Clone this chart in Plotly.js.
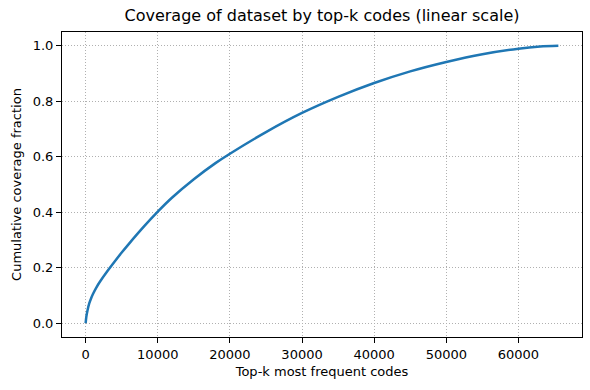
<!DOCTYPE html>
<html>
<head>
<meta charset="utf-8">
<script src="https://cdn.plot.ly/plotly-3.0.1.min.js"></script>
<style>html,body{margin:0;padding:0;background:#fff;}#chart{width:590px;height:390px;}</style>
</head>
<body>
<div id="chart"></div>
<script>
const topK = [0, 100, 250, 500, 750, 1000, 1500, 2000, 3000, 4000, 5000, 6000, 8000, 10000, 12000, 15000, 18000, 20000, 25000, 30000, 35000, 40000, 45000, 50000, 55000, 60000, 63000, 65536];
const coverage = [0, 0.024, 0.045, 0.071, 0.089, 0.104, 0.129, 0.150, 0.187, 0.2215, 0.2545, 0.286, 0.346, 0.402, 0.453, 0.519, 0.577, 0.611, 0.689, 0.758, 0.816, 0.866, 0.908, 0.942, 0.970, 0.990, 0.9975, 1.0];
const xTicks = [0, 10000, 20000, 30000, 40000, 50000, 60000];
const yTicks = [0, 0.2, 0.4, 0.6, 0.8, 1.0];

const font = "DejaVu Sans, sans-serif";
const trace = {
  x: topK, y: coverage, type: 'scatter', mode: 'lines',
  line: {color: '#1f77b4', width: 2.5, shape: 'spline', smoothing: 0.8},
  hoverinfo: 'skip'
};
const axisCommon = {
  showline: true, linecolor: '#000', linewidth: 1, mirror: true,
  ticks: 'outside', ticklen: 5, tickwidth: 1, tickcolor: '#000',
  showgrid: true, gridcolor: '#b0b0b0', griddash: '1px,2px', gridwidth: 1,
  zeroline: false, tickfont: {family: font, size: 13, color: '#000'}
};
const layout = {
  width: 590, height: 390,
  margin: {l: 62, r: 8, t: 32, b: 53},
  paper_bgcolor: '#fff', plot_bgcolor: '#fff',
  showlegend: false,
  title: {text: 'Coverage of dataset by top-k codes (linear scale)', font: {family: font, size: 16, color: '#000'},
          x: 0.5, xref: 'paper', y: 1 - 15/390, yref: 'container', yanchor: 'middle'},
  xaxis: Object.assign({}, axisCommon, {
    range: [-3277, 68813], tickvals: xTicks, ticktext: xTicks.map(String),
    title: {text: 'Top-k most frequent codes', font: {family: font, size: 13, color: '#000'}, standoff: 6}
  }),
  yaxis: Object.assign({}, axisCommon, {
    range: [-0.05, 1.05], tickvals: yTicks, ticktext: yTicks.map(v => v.toFixed(1)),
    title: {text: 'Cumulative coverage fraction', font: {family: font, size: 13, color: '#000'}, standoff: 8}
  })
};
Plotly.newPlot('chart', [trace], layout, {displayModeBar: false, staticPlot: true});
</script>
</body>
</html>
